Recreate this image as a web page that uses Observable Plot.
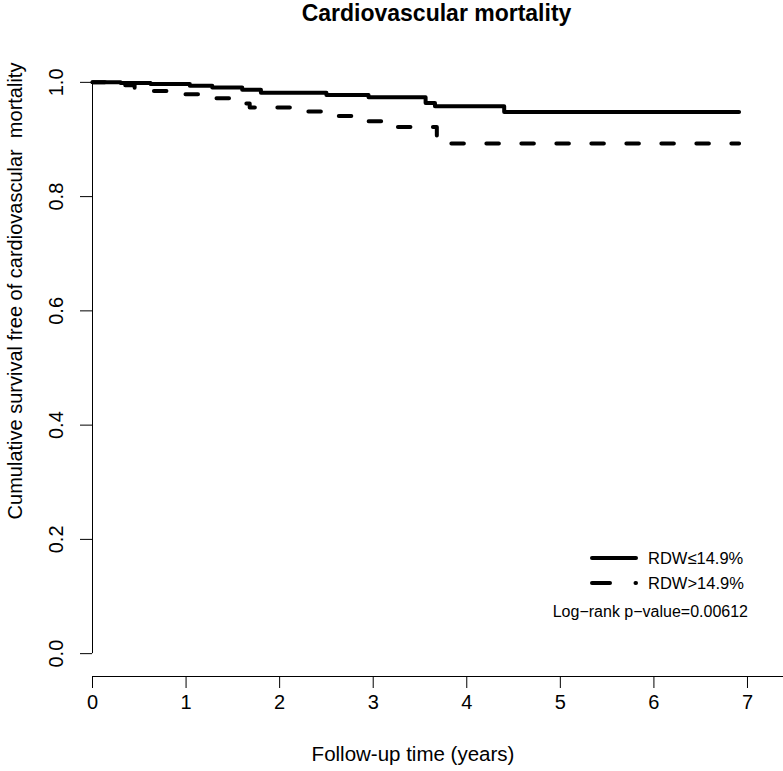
<!DOCTYPE html>
<html><head><meta charset="utf-8">
<script src="https://cdn.jsdelivr.net/npm/d3@7"></script>
<script src="https://cdn.jsdelivr.net/npm/@observablehq/plot@0.6"></script>
<style>
body{margin:0;background:#fff;}
svg{display:block;}
svg text{white-space:pre;}
</style>
</head><body><div id="chart"></div>
<script>
const title = "Cardiovascular mortality";
const xLabel = "Follow-up time (years)";
const yLabel = "Cumulative survival free of cardiovascular  mortality";
const xTicks = [0, 1, 2, 3, 4, 5, 6, 7];
const yTicks = [0, 0.2, 0.4, 0.6, 0.8, 1.0];
const seriesNames = ["RDW\u226414.9%", "RDW>14.9%"];
const pText = "Log\u2212rank p\u2212value=0.00612";

// RDW<=14.9% (solid)
const lowTime = [0, 0.30, 0.62, 1.04, 1.28, 1.60, 1.80, 2.50, 2.95, 3.56, 3.66, 4.40, 6.91];
const lowSurv = [1.0, 0.999, 0.997, 0.994, 0.991, 0.987, 0.982, 0.978, 0.974, 0.964, 0.958, 0.948, 0.948];
// RDW>14.9% (dashed)
const highTime = [0, 0.35, 0.45, 0.62, 0.95, 1.20, 1.60, 1.68, 2.20, 2.50, 2.85, 3.15, 3.68, 6.91];
const highSurv = [1.0, 0.995, 0.990, 0.985, 0.979, 0.972, 0.963, 0.956, 0.949, 0.941, 0.932, 0.922, 0.893, 0.893];

const low = lowTime.map((t, i) => ({t, s: lowSurv[i]}));
const high = highTime.map((t, i) => ({t, s: highSurv[i]}));

const FONT = '"Liberation Sans", Arial, Helvetica, sans-serif';
const DASH = "12.5,22.5";

const chart = Plot.plot({
  width: 783, height: 771,
  marginTop: 59, marginBottom: 95, marginLeft: 92, marginRight: 0,
  x: {domain: [0, 7.385]},
  y: {domain: [-0.04, 1.04]},
  style: {fontFamily: FONT, fontSize: "20px", color: "black", background: "white", overflow: "visible"},
  marks: [
    Plot.ruleY([-0.04], {stroke: "black", strokeWidth: 1}),
    Plot.ruleX([0], {y1: 0, y2: 1, stroke: "black", strokeWidth: 1}),
    Plot.axisX({ticks: xTicks, tickSize: 12, tickPadding: 6, tickFormat: d => String(d), label: null, fontSize: 20, strokeWidth: 1}),
    Plot.axisY({ticks: yTicks, tickSize: 12, tickFormat: () => "", label: null, strokeWidth: 1}),
    Plot.text(yTicks, {y: d => d, frameAnchor: "left", text: d => d.toFixed(1), rotate: -90, dx: -36, textAnchor: "middle", lineAnchor: "middle", fontSize: 20}),
    Plot.text([yLabel], {frameAnchor: "left", text: d => d, rotate: -90, dx: -77, dy: -77, fontSize: 20, textAnchor: "middle", lineAnchor: "middle"}),
    Plot.text([xLabel], {frameAnchor: "bottom", text: d => d, dx: -25, dy: 78, fontSize: 20.5, textAnchor: "middle", lineAnchor: "middle"}),
    Plot.text([title], {frameAnchor: "top", text: d => d, dx: -1.5, dy: -46, fontSize: 23, fontWeight: "bold", textAnchor: "middle", lineAnchor: "middle"}),
    Plot.line(low, {x: "t", y: "s", curve: "step-after", stroke: "black", strokeWidth: 4, strokeLinecap: "round", strokeLinejoin: "round"}),
    Plot.line(high, {x: "t", y: "s", curve: "step-after", stroke: "black", strokeWidth: 4, strokeDasharray: DASH, strokeLinecap: "round", strokeLinejoin: "round"})
  ]
});
document.getElementById("chart").appendChild(chart);

// legend
const svg = d3.select(chart);
const lg = svg.append("g").attr("font-family", FONT).attr("font-size", 16.5).attr("text-anchor", "start");
seriesNames.forEach((name, i) => {
  const y = 558 + i * 25;
  lg.append("line").attr("x1", 592).attr("x2", 636).attr("y1", y).attr("y2", y)
    .attr("stroke", "black").attr("stroke-width", 4).attr("stroke-linecap", "round")
    .attr("stroke-dasharray", i === 0 ? null : "18,25.5");
  lg.append("text").attr("x", 648).attr("y", y + 6).attr("text-anchor", "start").text(name);
});
lg.append("text").attr("x", 748).attr("y", 617).attr("font-size", 16).attr("text-anchor", "end").text(pText);
</script>
</body></html>
